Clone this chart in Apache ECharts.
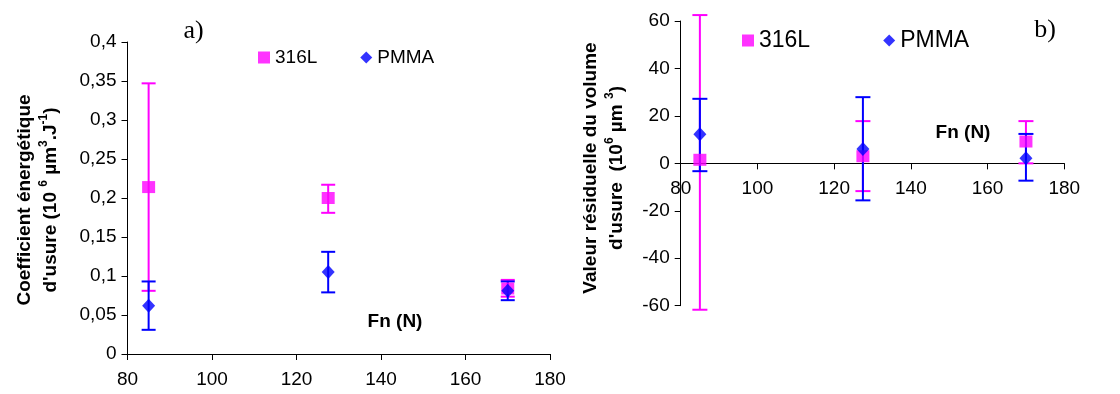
<!DOCTYPE html>
<html>
<head>
<meta charset="utf-8">
<script src="https://cdn.jsdelivr.net/npm/echarts@6/dist/echarts.min.js"></script>
<style>
html,body{margin:0;padding:0;background:#fff;}
#chart{width:1120px;height:394px;}
</style>
</head>
<body>
<div id="chart"></div>
<script>
// ---- data ----
const fnLoads = [85, 127.5, 170];
const xTicks = [80, 100, 120, 140, 160, 180];

// a) Coefficient énergétique d'usure
const coef316L = [0.214, 0.200, 0.084];
const coef316LLow = [0.081, 0.181, 0.0735];
const coef316LHigh = [0.347, 0.217, 0.095];
const coefPMMA = [0.062, 0.105, 0.081];
const coefPMMALow = [0.031, 0.079, 0.069];
const coefPMMAHigh = [0.093, 0.131, 0.093];

// b) Valeur résiduelle du volume d'usure
const res316L = [1.5, 3.0, 9.2];
const res316LLow = [-61.7, -11.7, 0];
const res316LHigh = [62.5, 17.8, 17.8];
const resPMMA = [12.3, 6.0, 2.2];
const resPMMALow = [-3.3, -15.6, -7.3];
const resPMMAHigh = [27.2, 27.9, 12.4];

const MAG = '#ff00ff';
const BLUE = '#0000ff';
const FONT = '"Liberation Sans", Arial, sans-serif';

function pts(xs, ys) { return xs.map((x, i) => [x, ys[i]]); }
function errData(xs, lo, hi) { return xs.map((x, i) => [x, lo[i], hi[i]]); }
function errRender(color, capW) {
  return function (params, api) {
    const x = api.value(0);
    const a = api.coord([x, api.value(1)]);
    const b = api.coord([x, api.value(2)]);
    const st = { stroke: color, lineWidth: 2 };
    return {
      type: 'group',
      children: [
        { type: 'line', shape: { x1: a[0], y1: a[1], x2: b[0], y2: b[1] }, style: st },
        { type: 'line', shape: { x1: a[0] - capW / 2, y1: a[1], x2: a[0] + capW / 2, y2: a[1] }, style: st },
        { type: 'line', shape: { x1: b[0] - capW / 2, y1: b[1], x2: b[0] + capW / 2, y2: b[1] }, style: st }
      ]
    };
  };
}

const axisCommon = {
  axisLine: { show: true, onZero: false, lineStyle: { color: '#000', width: 1 } },
  axisTick: { show: true, length: 6, lineStyle: { color: '#000' } },
  splitLine: { show: false },
  axisLabel: { color: '#000', fontSize: 19, fontFamily: FONT }
};

const chart = echarts.init(document.getElementById('chart'), null, { renderer: 'canvas' });

const supStyle = { fontSize: 12, fontWeight: 'bold', fontFamily: FONT, verticalAlign: 'top', lineHeight: 14, color: '#000' };
const bStyle = { fontSize: 19, fontWeight: 'bold', fontFamily: FONT, lineHeight: 26, color: '#000' };

// right chart: y range and grid height, so that the x axis sits on y = 0
const gridB = { left: 680.7, top: 21, width: 383.6, height: 284.7 };
const yMinB = -60, yMaxB = 60;
const zeroOffsetB = -gridB.height * (0 - yMinB) / (yMaxB - yMinB);

chart.setOption({
  animation: false,
  backgroundColor: '#fff',
  grid: [
    { left: 127.5, top: 42, width: 422.5, height: 312 },
    gridB
  ],
  xAxis: [
    Object.assign({}, axisCommon, {
      type: 'value', gridIndex: 0, min: 80, max: 180, interval: 20,
      axisLabel: Object.assign({}, axisCommon.axisLabel, { margin: 16 })
    }),
    Object.assign({}, axisCommon, {
      type: 'value', gridIndex: 1, min: 80, max: 180, interval: 20,
      position: 'bottom', offset: zeroOffsetB,
      axisLabel: Object.assign({}, axisCommon.axisLabel, { margin: 16 })
    })
  ],
  yAxis: [
    Object.assign({}, axisCommon, {
      type: 'value', gridIndex: 0, min: 0, max: 0.4, interval: 0.05,
      axisLabel: Object.assign({}, axisCommon.axisLabel, {
        margin: 11,
        formatter: v => String(+v.toFixed(2)).replace('.', ',')
      })
    }),
    Object.assign({}, axisCommon, {
      type: 'value', gridIndex: 1, min: yMinB, max: yMaxB, interval: 20,
      axisLabel: Object.assign({}, axisCommon.axisLabel, { margin: 11 })
    })
  ],
  legend: [
    {
      left: 258, top: 48, padding: 0, itemWidth: 12, itemHeight: 12, itemGap: 43,
      selectedMode: false,
      textStyle: { fontSize: 19, fontFamily: FONT, color: '#000' },
      data: [{ name: '316L', icon: 'rect' }, { name: 'PMMA', icon: 'diamond' }]
    },
    {
      left: 742, top: 29, padding: 0, itemWidth: 12, itemHeight: 12, itemGap: 73,
      selectedMode: false,
      textStyle: { fontSize: 23, fontFamily: FONT, color: '#000' },
      data: [{ name: '316L', icon: 'rect' }, { name: 'PMMA', icon: 'diamond' }]
    }
  ],
  graphic: [
    { type: 'text', x: 193.5, y: 31, style: { text: 'a)', font: '26px "Liberation Serif", "Times New Roman", serif', fill: '#000', align: 'center', verticalAlign: 'middle' } },
    { type: 'text', x: 1045, y: 30, style: { text: 'b)', font: '26px "Liberation Serif", "Times New Roman", serif', fill: '#000', align: 'center', verticalAlign: 'middle' } },
    { type: 'text', x: 395, y: 322, style: { text: 'Fn (N)', font: 'bold 19px ' + FONT, fill: '#000', align: 'center', verticalAlign: 'middle' } },
    { type: 'text', x: 963, y: 133, style: { text: 'Fn (N)', font: 'bold 19px ' + FONT, fill: '#000', align: 'center', verticalAlign: 'middle' } },
    {
      type: 'text', x: 37.5, y: 200, rotation: Math.PI / 2,
      style: {
        text: '{b|Coefficient énergétique}\n{b|d\'usure (10 }{s|6}{b| µm}{s|3}{b|.J}{s|-1}{b|)}',
        rich: { b: bStyle, s: supStyle },
        align: 'center', verticalAlign: 'middle', fill: '#000'
      }
    },
    {
      type: 'text', x: 604, y: 168, rotation: Math.PI / 2,
      style: {
        text: '{b|Valeur résiduelle du volume}\n{b|d\'usure  (10}{s|6}{b| µm }{s|3}{b|)}',
        rich: { b: bStyle, s: supStyle },
        align: 'center', verticalAlign: 'middle', fill: '#000'
      }
    }
  ],
  series: [
    // chart a)
    { type: 'custom', name: 'err316La', xAxisIndex: 0, yAxisIndex: 0, z: 2,
      renderItem: errRender(MAG, 14), encode: { x: 0, y: [1, 2] },
      data: errData(fnLoads, coef316LLow, coef316LHigh) },
    { type: 'custom', name: 'errPMMAa', xAxisIndex: 0, yAxisIndex: 0, z: 3,
      renderItem: errRender(BLUE, 14), encode: { x: 0, y: [1, 2] },
      data: errData(fnLoads, coefPMMALow, coefPMMAHigh) },
    { type: 'scatter', name: '316L', xAxisIndex: 0, yAxisIndex: 0, z: 4,
      symbol: 'rect', symbolSize: [13, 12], itemStyle: { color: MAG },
      data: pts(fnLoads, coef316L) },
    { type: 'scatter', name: 'PMMA', xAxisIndex: 0, yAxisIndex: 0, z: 5,
      symbol: 'diamond', symbolSize: [13, 14], itemStyle: { color: BLUE },
      data: pts(fnLoads, coefPMMA) },
    // chart b)
    { type: 'custom', name: 'err316Lb', xAxisIndex: 1, yAxisIndex: 1, z: 2,
      renderItem: errRender(MAG, 15), encode: { x: 0, y: [1, 2] },
      data: errData(fnLoads, res316LLow, res316LHigh) },
    { type: 'custom', name: 'errPMMAb', xAxisIndex: 1, yAxisIndex: 1, z: 3,
      renderItem: errRender(BLUE, 15), encode: { x: 0, y: [1, 2] },
      data: errData(fnLoads, resPMMALow, resPMMAHigh) },
    { type: 'scatter', name: '316L', xAxisIndex: 1, yAxisIndex: 1, z: 4,
      symbol: 'rect', symbolSize: [13, 12], itemStyle: { color: MAG },
      data: pts(fnLoads, res316L) },
    { type: 'scatter', name: 'PMMA', xAxisIndex: 1, yAxisIndex: 1, z: 5,
      symbol: 'diamond', symbolSize: [13, 14], itemStyle: { color: BLUE },
      data: pts(fnLoads, resPMMA) }
  ]
});
</script>
</body>
</html>
